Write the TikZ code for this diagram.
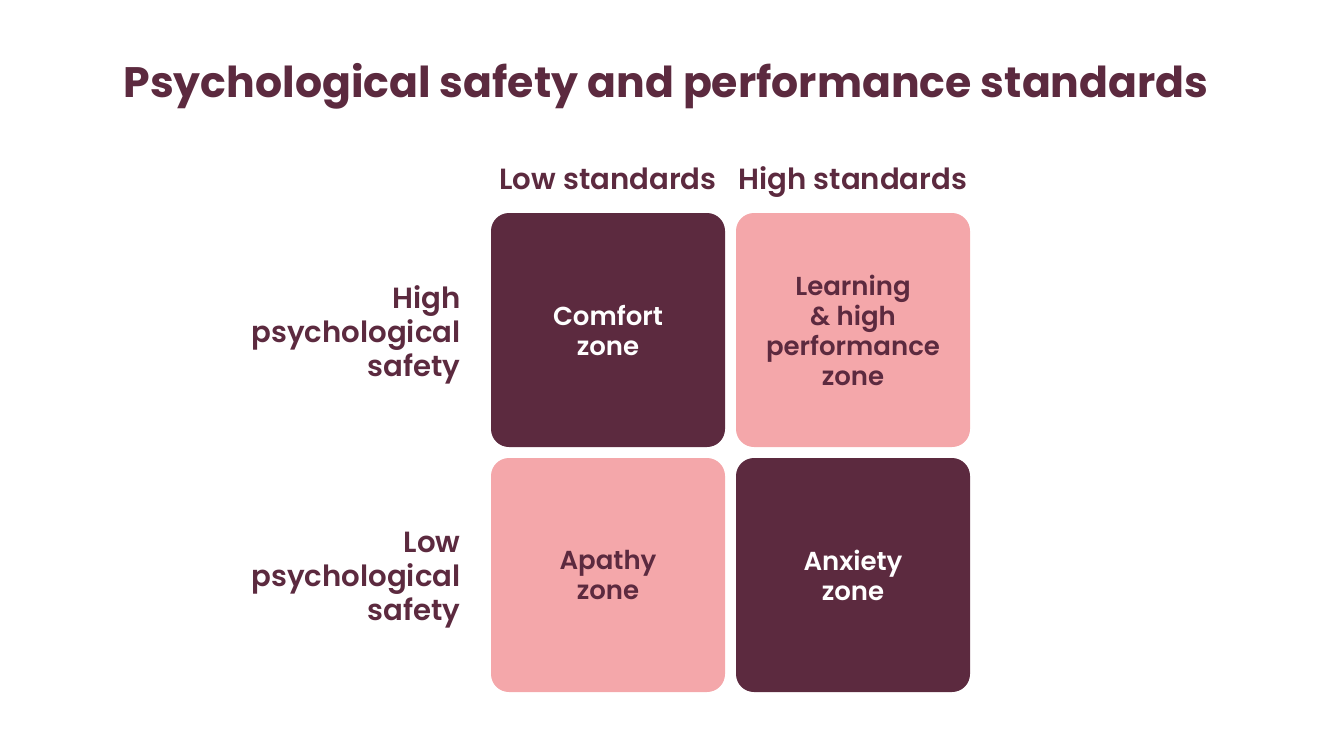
\documentclass[tikz,border=0pt]{standalone}
\usepackage{fontspec}
\setmainfont{Poppins}[UprightFont=* SemiBold, BoldFont=* Bold]
\definecolor{plum}{HTML}{5C2A3F}
\definecolor{rose}{HTML}{F4A7AA}
\tikzset{
  zone/.style={minimum size=117pt, rounded corners=9pt, align=center, font=\fontsize{13}{15}\selectfont},
  darkzone/.style={zone, fill=plum, text=white},
  lightzone/.style={zone, fill=rose, text=plum},
  header/.style={text=plum, inner sep=0pt, font=\fontsize{14.6}{17}\selectfont},
}
\begin{document}
\begin{tikzpicture}[x=0.5pt,y=-0.5pt]
\useasboundingbox (0,0) rectangle (1333,752);
\node[text=plum, anchor=base, font=\bfseries\fontsize{21.3}{26}\selectfont] (title) at (666,97) {Psychological safety and performance standards};

\node[header, anchor=base] (low) at (608,189) {Low standards};
\node[header, anchor=base] (high) at (853,189) {High standards};

\node[header, align=right, anchor=east] (hps) at (461,335) {High\\psychological\\safety};
\node[header, align=right, anchor=east] (lps) at (461,580) {Low\\psychological\\safety};

\node[darkzone] (comfort) at (608,330) {Comfort\\zone};
\node[lightzone] (learning) at (853,330) {Learning\\\& high\\performance\\zone};
\node[lightzone] (apathy) at (608,575) {Apathy\\zone};
\node[darkzone] (anxiety) at (853,575) {Anxiety\\zone};
\end{tikzpicture}
\end{document}
